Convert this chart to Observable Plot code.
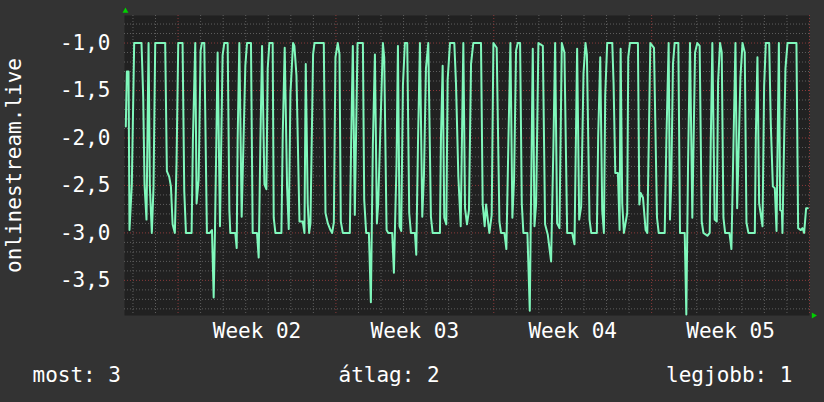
<!DOCTYPE html>
<html>
<head>
<meta charset="utf-8">
<script src="https://cdn.jsdelivr.net/npm/d3@7"></script>
<script src="https://cdn.jsdelivr.net/npm/@observablehq/plot@0.6"></script>
<style>
  html, body { margin: 0; padding: 0; background: #333333; }
</style>
</head>
<body>
<div id="chart"></div>
<script>
// hours since 2023-01-06 15:00 UTC
const hours = [
  1.4,2.5,4.3,5.3,7.8,10.3,18.1,19.9,21.3,23.4,25.6,27.0,29.1,30.9,32.7,43.3,45.1,47.6,49.4,51.2,53.6,55.4,57.2,61.8,63.6,65.4,71.4,72.8,75.3,76.7,78.9,81.0,82.4,84.9,87.7,90.9,93.1,94.9,96.3,97.7,99.1,101.6,104.4,106.2,109.8,111.6,112.6,117.9,119.4,120.4,122.2,124.7,128.6,130.4,134.6,136.4,141.0,142.8,
  144.6,146.4,148.9,151.0,152.4,154.2,157.7,158.8,160.6,167.0,168.4,170.5,173.0,174.8,176.6,179.4,180.8,183.0,186.2,189.7,191.5,192.9,195.0,196.5,197.9,200.7,202.2,212.1,213.9,216.4,219.2,221.0,222.8,224.5,227.0,228.8,230.2,232.3,239.8,241.2,243.0,245.1,248.0,253.7,255.1,257.2,260.1,262.2,264.3,266.5,268.6,270.0,275.0,276.4,278.9,280.7,284.9,286.7,
  289.5,291.0,292.7,294.5,296.3,298.4,300.9,303.0,304.8,309.1,310.5,312.3,314.4,316.9,318.7,320.8,323.3,326.1,327.9,335.7,336.8,338.6,340.3,342.5,343.9,346.4,351.0,352.8,355.3,357.8,360.6,362.4,364.5,366.6,368.8,371.2,379.4,381.2,383.3,384.8,388.3,390.8,392.6,396.1,399.0,400.7,404.3,406.4,408.6,410.7,412.8,414.6,416.7,418.5,421.0,422.8,424.5,428.8,431.3,
  434.5,436.3,438.1,440.5,445.2,447.6,450.5,454.0,456.5,458.3,460.4,462.9,465.4,468.2,471.1,476.4,478.9,481.7,483.9,486.0,488.5,490.6,492.1,494.9,496.7,502.7,504.1,506.3,508.4,510.2,511.6,513.7,519.1,520.5,522.3,525.1,526.9,528.0,529.7,531.5,535.0,536.1,537.9,546.4,547.9,549.3,551.8,554.6,556.4,559.6,563.5,566.7,568.5,574.9,576.7,579.1,
  580.5,581.9,583.7,585.5,589.4,591.2,596.2,597.9,599.7,601.8,604.3,607.2,609.6,612.1,614.3,616.1,620.3,622.8,623.9,625.6,628.1,630.3,631.7,633.8,635.6,637.4,639.2,643.8,645.9,648.1,650.2,652.0,655.5,657.7,660.1,661.9,664.0,670.8,671.9,673.6,675.4,679.0,680.7,682.5,686.1,687.8,690.0,692.1,693.9,696.4,697.8,699.6,700.2,703.4,705.6,715.1,716.9,719.8,721.5,723.3,725.4,727.2
];
const values = [
  -1.88,-1.30,-1.30,-2.97,-2.49,-1.00,-1.00,-1.57,-2.49,-2.86,-1.00,-2.51,-3.00,-2.51,-1.00,-1.00,-2.35,-2.41,-2.51,-2.91,-3.00,-2.25,-1.00,-1.00,-2.56,-3.00,-3.00,-2.02,-1.00,-2.69,-2.44,-1.08,-1.00,-1.00,-3.00,-3.00,-2.97,-3.68,-2.97,-2.06,-1.10,-2.93,-1.13,-1.00,-1.00,-2.76,-3.00,-3.00,-3.16,-2.02,-1.00,-2.83,-1.24,-1.00,-1.00,-3.00,-3.00,-3.26,
  -2.06,-1.03,-2.49,-2.54,-1.27,-1.00,-1.00,-2.84,-3.00,-3.00,-1.97,-1.05,-2.51,-2.96,-1.53,-1.00,-1.03,-1.34,-2.88,-2.88,-3.00,-1.22,-2.69,-3.00,-2.90,-1.12,-1.00,-1.00,-2.79,-2.90,-2.97,-3.00,-2.89,-1.15,-1.00,-1.12,-2.88,-3.00,-3.00,-2.06,-1.03,-2.81,-1.00,-1.00,-2.65,-3.00,-3.00,-3.73,-2.08,-1.12,-2.90,-2.69,-1.00,-1.15,-2.97,-3.00,-3.00,-3.42,
  -2.27,-1.03,-2.93,-2.98,-1.45,-1.00,-1.00,-2.79,-3.00,-3.00,-3.23,-2.08,-1.00,-2.83,-2.39,-1.27,-1.00,-2.83,-3.00,-3.00,-1.99,-1.24,-2.84,-2.91,-1.39,-1.00,-1.00,-1.43,-2.41,-2.93,-1.00,-2.74,-2.91,-2.76,-1.22,-1.00,-1.00,-2.70,-2.93,-2.70,-3.00,-2.81,-1.00,-1.05,-2.88,-3.00,-3.00,-3.17,-2.02,-1.00,-2.84,-2.44,-1.08,-1.00,-1.00,-2.69,-3.00,-3.00,-3.82,
  -1.06,-2.93,-2.69,-1.00,-1.03,-2.91,-3.02,-3.30,-2.06,-1.00,-2.90,-2.95,-1.00,-1.10,-3.00,-3.00,-3.12,-1.06,-2.86,-2.72,-1.32,-1.00,-1.12,-2.86,-3.00,-3.00,-1.99,-1.15,-2.76,-3.00,-1.55,-1.00,-1.00,-1.43,-2.37,-2.37,-2.97,-1.06,-2.69,-3.00,-2.79,-1.15,-1.00,-1.00,-2.70,-2.58,-2.63,-2.97,-3.00,-1.00,-1.05,-2.84,-3.00,-3.00,-2.02,-1.00,
  -2.86,-2.46,-1.22,-1.00,-1.00,-3.00,-3.00,-3.86,-2.32,-1.00,-2.84,-1.10,-1.00,-1.03,-2.88,-3.00,-3.03,-3.00,-2.06,-1.00,-2.86,-2.88,-1.41,-1.00,-1.10,-2.84,-3.00,-3.00,-3.17,-2.06,-1.00,-2.74,-1.36,-1.00,-1.10,-2.89,-3.00,-3.00,-1.98,-1.15,-2.69,-2.93,-1.46,-1.00,-1.00,-1.85,-2.51,-2.53,-2.98,-1.00,-2.76,-2.77,-3.00,-1.27,-1.00,-1.00,-2.95,-2.97,-2.95,-3.00,-2.74,-2.74
];
const yTicks = [-1.0, -1.5, -2.0, -2.5, -3.0, -3.5];
const weekLabels = ["Week 02", "Week 03", "Week 04", "Week 05"];
const weekMids = [Date.UTC(2023,0,12,12), Date.UTC(2023,0,19,12), Date.UTC(2023,0,26,12), Date.UTC(2023,1,2,12)].map(d => new Date(d));
const yLabel = "onlinestream.live";
const legendLabels = ["most", "átlag", "legjobb"];
const legendValues = [3, 2, 1];

const start = Date.UTC(2023,0,6,15);
const end = Date.UTC(2023,1,6,0);
const data = hours.map((h, i) => ({t: new Date(start + h * 3600e3), v: values[i]}));

const dayLines = d3.utcDay.range(new Date(start), new Date(end)).filter(d => d.getUTCDay() !== 1);
const weekLines = d3.utcMonday.range(new Date(start), new Date(end + 1));
const minorY = d3.range(-38, -7).map(k => k / 10).filter(v => Math.abs(v * 2 - Math.round(v * 2)) > 1e-6);

const font = "DejaVu Sans Mono";
const lineColor = "#80f8bc";
const minorColor = "#5e5e5e";
const majorColor = "#8a3a3a";

const chart = Plot.plot({
  width: 824,
  height: 402,
  marginLeft: 124,
  marginRight: 15,
  marginTop: 15,
  marginBottom: 87,
  style: {background: "#333333", color: "#ffffff", fontFamily: font, fontSize: "21px"},
  x: {type: "utc", domain: [new Date(start), new Date(end)]},
  y: {domain: [-3.87, -0.71]},
  marks: [
    Plot.frame({fill: "#212121", stroke: null}),
    Plot.ruleY(minorY, {stroke: minorColor, strokeDasharray: "1,2"}),
    Plot.ruleX(dayLines, {stroke: minorColor, strokeDasharray: "1,2"}),
    Plot.ruleY(yTicks, {stroke: majorColor, strokeDasharray: "1,2"}),
    Plot.ruleX(weekLines, {stroke: majorColor, strokeDasharray: "1,2"}),
    Plot.line(data, {x: "t", y: "v", stroke: lineColor, strokeWidth: 2}),
    Plot.axisY(yTicks, {tickSize: 0, tickPadding: 14, fontSize: 21, fill: "#ffffff",
      tickFormat: d => d.toFixed(1).replace(".", ","), label: null}),
    Plot.axisX(weekMids, {tickSize: 0, tickPadding: 8, fontSize: 21, fill: "#ffffff",
      tickFormat: d => weekLabels[weekMids.findIndex(m => +m === +d)], label: null}),
    Plot.text([yLabel], {frameAnchor: "left", textAnchor: "middle", lineAnchor: "middle", rotate: -90, dx: -110, fontSize: 21, fill: "#ffffff"}),
    Plot.text([`${legendLabels[0]}: ${legendValues[0]}`], {frameAnchor: "bottom-left", textAnchor: "start", lineAnchor: "middle", dx: -92, dy: 60, fontSize: 21, fill: "#ffffff"}),
    Plot.text([`${legendLabels[1]}: ${legendValues[1]}`], {frameAnchor: "bottom-left", textAnchor: "start", lineAnchor: "middle", dx: 214, dy: 60, fontSize: 21, fill: "#ffffff"}),
    Plot.text([`${legendLabels[2]}: ${legendValues[2]}`], {frameAnchor: "bottom-right", textAnchor: "end", lineAnchor: "middle", dx: -17, dy: 60, fontSize: 21, fill: "#ffffff"}),
    Plot.dot([0], {frameAnchor: "top-left", symbol: "triangle", r: 2.2, fill: "#00d000", stroke: null, dx: 1, dy: -4.5}),
    Plot.dot([0], {frameAnchor: "bottom-right", symbol: "triangle", r: 2.2, fill: "#00d000", stroke: null, rotate: 90, dx: 4, dy: 0})
  ]
});
document.getElementById("chart").appendChild(chart);
</script>
</body>
</html>
